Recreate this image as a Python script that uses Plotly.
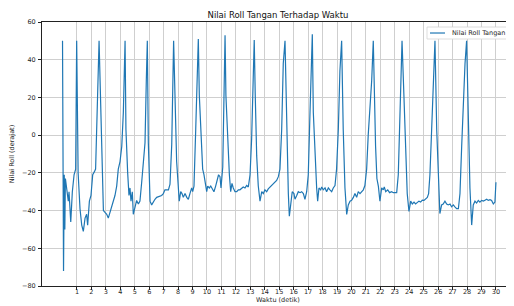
import plotly.graph_objects as go

# Time (seconds) and hand roll angle (degrees)
time_s = [
    0, 0.07, 0.12, 0.16, 0.2, 0.29, 0.4, 0.45, 0.57, 0.68, 0.8, 0.91, 0.98,
    1.08, 1.21, 1.33, 1.44, 1.56, 1.67, 1.74, 1.86, 1.97, 2.09, 2.2, 2.29, 2.53,
    2.66, 2.71, 2.83, 2.94, 3.06, 3.17, 3.29, 3.4, 3.52, 3.63, 3.75, 3.86, 3.98, 4.1, 4.21, 4.33,
    4.39, 4.44, 4.51, 4.6, 4.67, 4.74, 4.83, 4.9, 5.02, 5.13, 5.25, 5.36, 5.48, 5.59, 5.71, 5.8, 5.87,
    5.94, 6.06, 6.17, 6.29, 6.4, 6.52, 6.63, 6.75, 6.86, 6.98, 7.09, 7.21, 7.33, 7.44, 7.56, 7.69,
    7.79, 7.9, 8.01, 8.08, 8.18, 8.27, 8.36, 8.48, 8.6, 8.71, 8.82, 8.94, 9.01, 9.1, 9.22, 9.33, 9.4,
    9.47, 9.56, 9.7, 9.79, 9.88, 9.98, 10.05, 10.16, 10.26, 10.37, 10.48, 10.6, 10.71, 10.8, 10.9, 10.97, 11.09, 11.18, 11.25,
    11.31, 11.41, 11.55, 11.64, 11.73, 11.82, 11.94, 12.06, 12.17, 12.28, 12.4, 12.51, 12.63, 12.75, 12.86, 12.98, 13.09, 13.2, 13.27,
    13.34, 13.44, 13.55, 13.67, 13.79, 13.9, 14.01, 14.13, 14.24, 14.36, 14.48, 14.59, 14.71, 14.82, 14.94, 15.05, 15.17, 15.28, 15.4,
    15.51, 15.63, 15.7, 15.81, 15.9, 16.02, 16.09, 16.21, 16.32, 16.44, 16.55, 16.67, 16.78, 16.9, 17.01, 17.13, 17.24, 17.29,
    17.36, 17.47, 17.59, 17.66, 17.75, 17.87, 17.94, 18.05, 18.17, 18.28, 18.4, 18.51, 18.63, 18.74, 18.86, 18.97, 19.09, 19.2, 19.32,
    19.43, 19.55, 19.67, 19.78, 19.9, 20.01, 20.13, 20.24, 20.36, 20.47, 20.59, 20.71, 20.82, 20.93, 21.05, 21.16, 21.28, 21.4, 21.51,
    21.58, 21.67, 21.76, 21.86, 21.97, 22.09, 22.2, 22.27, 22.37, 22.51, 22.64, 22.78, 22.9, 23.01, 23.13, 23.24, 23.36, 23.5,
    23.63, 23.77, 23.86, 23.98, 24.1, 24.21, 24.33, 24.44, 24.56, 24.67, 24.79, 24.9, 25.02, 25.14, 25.25, 25.34, 25.43, 25.55, 25.66, 25.78,
    25.9, 26.01, 26.12, 26.24, 26.35, 26.47, 26.59, 26.7, 26.82, 26.93, 27.05, 27.16, 27.28, 27.4, 27.51, 27.63, 27.74, 27.86, 27.97,
    28.09, 28.2, 28.32, 28.43, 28.55, 28.66, 28.78, 28.89, 29.01, 29.13, 29.24, 29.36, 29.47, 29.59, 29.7, 29.82, 29.93, 30.0,
]

roll_deg = [
    50, -72, -21, -50, -23, -28, -35, -30, -46, -30, -21, -18, 50,
    -20, -39, -47.7, -51, -44, -42, -47.7, -35, -32, -21, -19.5, -18, 50,
    5, -11, -40, -41, -42, -44, -41, -39, -35, -32, -27, -18, -14, -6, 12, 50,
    3, -9, -20, -32, -28, -35, -30, -42, -37, -34.6, -36.5, -35, -25, -14, -4, 29, 50,
    -4, -35, -37, -35, -34, -33, -32.6, -32, -32, -31, -29, -29, -29, -26, -5, 50,
    21, -14, -27, -35, -30, -31, -33, -31, -33, -34, -31, -28, -30, -27, 3, 38, 51,
    21, 2, -18, -21, -25, -30, -27, -28, -27, -29, -30, -27, -23, -21, -22, -28, -17, 29, 53,
    21, 0, -21, -30, -25.6, -28, -30, -30, -29, -29, -28, -27.5, -28, -26.7, -27.5, -21, -2, 38, 50.5,
    21, -11, -27, -35, -30, -31, -29, -30, -28.5, -27.5, -27, -25.6, -24.7, -24, -22, -18, 3, 38, 50,
    0, -31, -43, -35, -30, -31, -34, -32, -30, -30.5, -30, -31, -34, -30, -21, 12, 45, 53.5,
    12, -11, -28, -35, -28, -29, -27.5, -29, -28, -30, -28, -29, -30, -28, -26.7, -18, 3, 34, 50,
    3, -28, -42, -37, -35, -34.6, -33, -31, -33, -30, -31, -30, -29, -26.7, -18, 0, 15, 29, 50,
    21, -6, -23, -27, -35, -28, -29, -27.5, -30, -29, -30.5, -30, -30.5, -30.5, -30.5, -21, 12, 50,
    21, -14, -31, -40.5, -35, -36.5, -35.5, -36.5, -35.5, -35, -35.5, -34.5, -34.6, -34, -33, -31, -21, 3, 32, 50,
    3, -25, -41.6, -37, -36.5, -35, -36.5, -37, -36.5, -38, -37, -38, -39, -39, -31, -5.6, 21, 38, 50,
    3, -28, -47.7, -37, -35, -36, -34.6, -35.5, -34.6, -35, -34.5, -34, -34.6, -34.2, -34.6, -36.5, -35.5, -25,
]

x_ticks = list(range(1, 31))
y_ticks = [-80, -60, -40, -20, 0, 20, 40, 60]

title_text = "Nilai Roll Tangan Terhadap Waktu"
x_label = "Waktu (detik)"
y_label = "Nilai Roll (derajat)"
series_name = "Nilai Roll Tangan"

LINE_COLOR = "#1f77b4"
FONT = "DejaVu Sans"
TXT = "#262626"

fig = go.Figure()
fig.add_trace(go.Scatter(
    x=time_s, y=roll_deg, mode="lines", name=series_name,
    line=dict(color=LINE_COLOR, width=1.2), showlegend=False,
))

# The page body adds an 8px offset, so the figure is sized to end at the window edge.
W, H = 506, 298
fig.update_layout(
    width=W, height=H,
    margin=dict(l=34, r=0, t=14, b=20, autoexpand=False),
    plot_bgcolor="white", paper_bgcolor="white",
    font=dict(family=FONT, size=7, color=TXT),
    title=dict(text=title_text, x=0.5, xref="paper", xanchor="center",
               y=1 - 7 / H, yref="container", yanchor="middle",
               font=dict(family=FONT, size=8.5, color="#111111")),
    showlegend=False,
)

# Legend box (matplotlib-style, upper right)
lx0, lx1 = 0.8157, 0.9958
ly0, ly1 = 0.9356, 0.981
ly = (ly0 + ly1) / 2
fig.add_shape(type="rect", xref="paper", yref="paper", x0=lx0, x1=lx1, y0=ly0, y1=ly1,
              line=dict(color="#d4d4d4", width=0.8), fillcolor="white", layer="above")
fig.add_shape(type="line", xref="paper", yref="paper", x0=0.822, x1=0.8538, y0=ly, y1=ly,
              line=dict(color=LINE_COLOR, width=1.2), layer="above")
fig.add_annotation(text=series_name, xref="paper", yref="paper", x=0.8644, y=ly,
                   xanchor="left", yanchor="middle", showarrow=False,
                   font=dict(family=FONT, size=6.5, color=TXT))

fig.update_xaxes(
    range=[-1.42, 31.25], tickmode="array", tickvals=x_ticks,
    ticktext=[str(v) for v in x_ticks],
    ticks="outside", ticklen=3, tickwidth=0.8, tickcolor="#222222",
    showline=True, linecolor="#222222", linewidth=0.9, mirror=True,
    showgrid=True, gridcolor="#cfcfcf", gridwidth=0.8, zeroline=False,
    tickfont=dict(family=FONT, size=6.5, color=TXT), ticklabelstandoff=-4,
    title=dict(text=x_label, font=dict(family=FONT, size=6.5, color=TXT), standoff=0),
    automargin=False,
)
fig.update_yaxes(
    range=[-80, 60], tickmode="array", tickvals=y_ticks,
    ticks="outside", ticklen=3, tickwidth=0.8, tickcolor="#222222",
    showline=True, linecolor="#222222", linewidth=0.9,
    showgrid=True, gridcolor="#cfcfcf", gridwidth=0.8, zeroline=False,
    tickfont=dict(family=FONT, size=6.5, color=TXT), ticklabelstandoff=1,
    title=dict(text=y_label, font=dict(family=FONT, size=6.5, color=TXT), standoff=8),
    automargin=False,
)

fig.write_html("out.html")
